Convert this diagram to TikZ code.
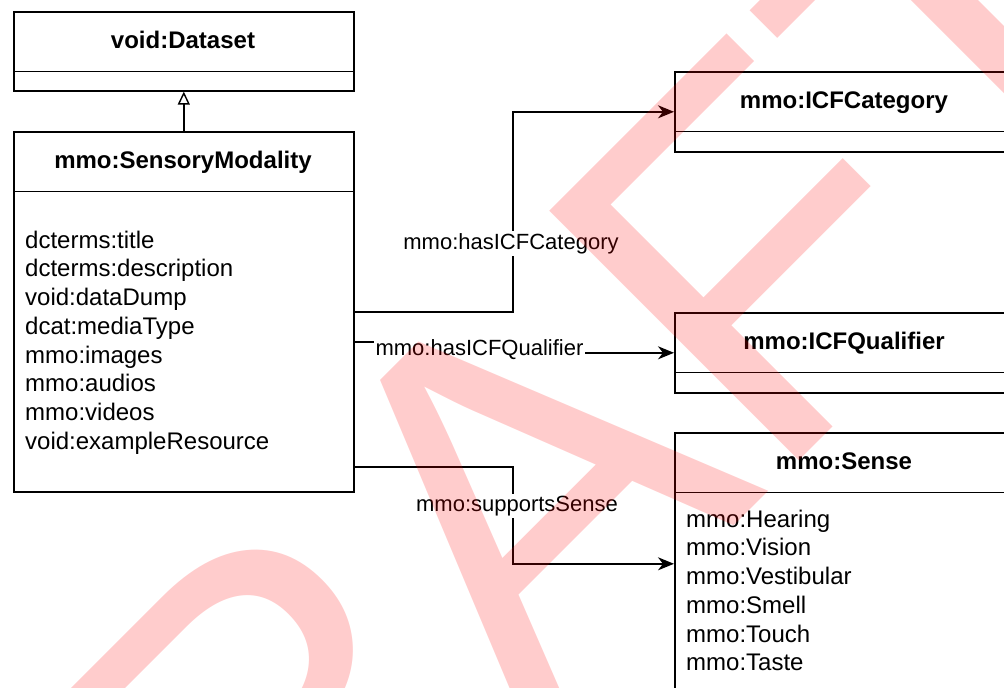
\documentclass[tikz,border=0pt]{standalone}
\usepackage{fontspec}
\setmainfont{Liberation Sans}
\newfontfamily\wmfont[Kerning=Off]{Liberation Sans}
\usetikzlibrary{arrows.meta}
\begin{document}
\begin{tikzpicture}[x=1pt,y=-1pt,
  box/.style={draw=black, line width=1.6pt, fill=white, inner sep=0pt, anchor=north west, minimum width=340pt},
  divider/.style={line width=1.6pt},
  title/.style={font=\fontsize{24}{28}\selectfont\bfseries, inner sep=0pt, anchor=base},
  attr/.style={font=\fontsize{24}{28}\selectfont, inner sep=0pt, anchor=base west},
  lbl/.style={font=\fontsize{22}{26}\selectfont, fill=white, inner sep=2pt, anchor=base},
  conn/.style={line width=1.6pt, -{Stealth[length=16pt,width=13pt,inset=5pt]}},
  gen/.style={line width=1.4pt, -{Triangle[open,length=13pt,width=12pt]}},
  wm/.style={text=red, text opacity=0.2, font=\wmfont\fontsize{513}{513}\selectfont, inner sep=0pt, anchor=base west, rotate=45}
]
\useasboundingbox (0,0) rectangle (1004,688);
\clip (0,0) rectangle (1004,688);
\fill[white] (0,0) rectangle (1004,688);

% class boxes
\node[box, minimum height=79pt] (dataset) at (13,11) {};
\node[box, minimum height=360pt] (sm) at (13,131) {};
\node[box, minimum height=80pt] (icfcat) at (674,71) {};
\node[box, minimum height=80pt] (icfqual) at (674,312) {};
\node[box, minimum height=262pt] (sense) at (674,432) {};

% compartment dividers
\foreach \b in {dataset,sm,icfcat,icfqual,sense}
  \draw[divider] ([yshift=-60.5pt]\b.north west) -- ([yshift=-60.5pt]\b.north east);

% titles
\node[title] (datasetT) at (183,48.5) {void:Dataset};
\node[title] (smT) at (183,168.5) {mmo:SensoryModality};
\node[title] (icfcatT) at (844,108.5) {mmo:ICFCategory};
\node[title] (icfqualT) at (844,349) {mmo:ICFQualifier};
\node[title] (senseT) at (844,469) {mmo:Sense};

% attributes
\foreach \t [count=\i] in {dcterms:title,dcterms:description,void:dataDump,dcat:mediaType,mmo:images,mmo:audios,mmo:videos,void:exampleResource}
  \node[attr] (smA\i) at (25,{248+28.75*(\i-1)}) {\t};
\foreach \t [count=\i] in {mmo:Hearing,mmo:Vision,mmo:Vestibular,mmo:Smell,mmo:Touch,mmo:Taste}
  \node[attr] (senseA\i) at (686,{527+28.75*(\i-1)}) {\t};

% generalization
\draw[gen] (sm.north) -- (dataset.south);

% associations
\coordinate (catmid) at (513,241);
\coordinate (qualmid) at (479,347);
\coordinate (sensemid) at (513,505);
\draw[conn] (sm.east) -| (catmid) |- (icfcat.west);
\draw[conn] ([yshift=-30pt]sm.east) -| (qualmid) |- (icfqual.west);
\draw[conn] ([yshift=-155pt]sm.east) -| (sensemid) |- (sense.west);

\node[lbl] (catL) at (511,249) {mmo:hasICFCategory};
\node[lbl] (qualL) at (479.5,355) {mmo:hasICFQualifier};
\node[lbl] (senseL) at (517,511) {mmo:supportsSense};

% watermark
\node[wm] (draft) at (3.6,1256) {DRAFT};
\end{tikzpicture}
\end{document}
